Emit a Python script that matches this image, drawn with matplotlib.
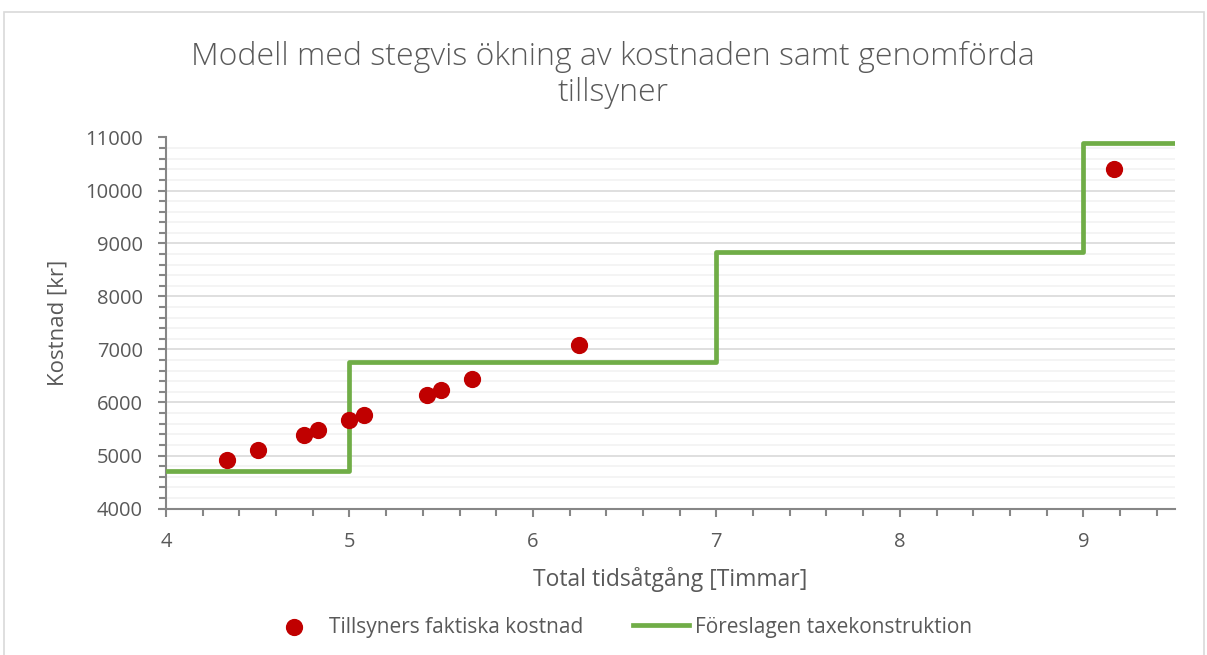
import matplotlib.pyplot as plt
from matplotlib.patches import Rectangle
from matplotlib.ticker import MultipleLocator

# faktiska tillsyner: tid [h] och kostnad [kr]
tid = [4.33, 4.50, 4.75, 4.83, 5.00, 5.08, 5.42, 5.50, 5.67, 6.25, 9.17]
kostnad = [4915, 5110, 5390, 5480, 5670, 5770, 6150, 6240, 6440, 7090, 10400]

# föreslagen taxa (trappsteg)
steg_x = [4, 5, 7, 9, 9.5]
steg_y = [4710, 6770, 8845, 10900, 10900]

title = "Modell med stegvis ökning av kostnaden samt genomförda\ntillsyner"
xlabel = "Total tidsåtgång [Timmar]"
ylabel = "Kostnad [kr]"

grey = '#595959'
plt.rcParams['font.family'] = ['Open Sans', 'DejaVu Sans']

fig = plt.figure(figsize=(12.07, 6.55), dpi=100)
fig.patches.append(Rectangle((4 / 1207, -0.01), 1200 / 1207, 1 - 12 / 655 + 0.01,
                             transform=fig.transFigure, fill=False,
                             edgecolor='#d9d9d9', linewidth=1.2))

ax = fig.add_axes([166 / 1207, 1 - 508.5 / 655, (1175 - 166) / 1207, (508.5 - 137.5) / 655])

ax.plot(steg_x, steg_y, drawstyle='steps-post', color='#70ad47', linewidth=3.4,
        solid_joinstyle='round', label='Föreslagen taxekonstruktion', zorder=3)
ax.scatter(tid, kostnad, s=130, color='#c00000', label='Tillsyners faktiska kostnad', zorder=4)

ax.set_xlim(4, 9.5)
ax.set_ylim(4000, 11000)
ax.xaxis.set_major_locator(MultipleLocator(1))
ax.xaxis.set_minor_locator(MultipleLocator(0.2))
ax.yaxis.set_major_locator(MultipleLocator(1000))
ax.yaxis.set_minor_locator(MultipleLocator(200))

ax.grid(which='major', axis='y', color='#d9d9d9', linewidth=1.2)
ax.grid(which='minor', axis='y', color='#f2f2f2', linewidth=1.2)
ax.set_axisbelow(True)

for s in ['top', 'right']:
    ax.spines[s].set_visible(False)
for s in ['left', 'bottom']:
    ax.spines[s].set_color('#868686')
    ax.spines[s].set_linewidth(1.5)

ax.tick_params(which='major', length=6, width=1.5, color='#868686', labelsize=14.5,
               labelcolor=grey)
ax.tick_params(which='minor', length=5, width=1.5, color='#868686')
ax.tick_params(axis='x', which='major', pad=11)
ax.tick_params(axis='y', which='major', pad=10.5)

ax.set_xlabel(xlabel, fontsize=16.5, color=grey)
ax.set_ylabel(ylabel, fontsize=16, color=grey)
ax.xaxis.set_label_coords(0.5, (508.5 - 579) / 371)
ax.xaxis.label.set_va('center')
ax.yaxis.set_label_coords((58 - 166) / 1009, 0.5)
ax.yaxis.label.set_va('center')

fig.text(0.508, 1 - 75 / 655, title, ha='center', va='center', fontsize=23,
         color=grey, fontweight='light', linespacing=1.15)

h, l = ax.get_legend_handles_labels()
fig.legend(h[::-1], l[::-1], loc='center', bbox_to_anchor=(0.513, 1 - 627 / 655), ncol=2,
           frameon=False, fontsize=15, labelcolor=grey, handlelength=2.7,
           columnspacing=2.4, handletextpad=0.3)

fig.savefig('out.png', dpi=100)
